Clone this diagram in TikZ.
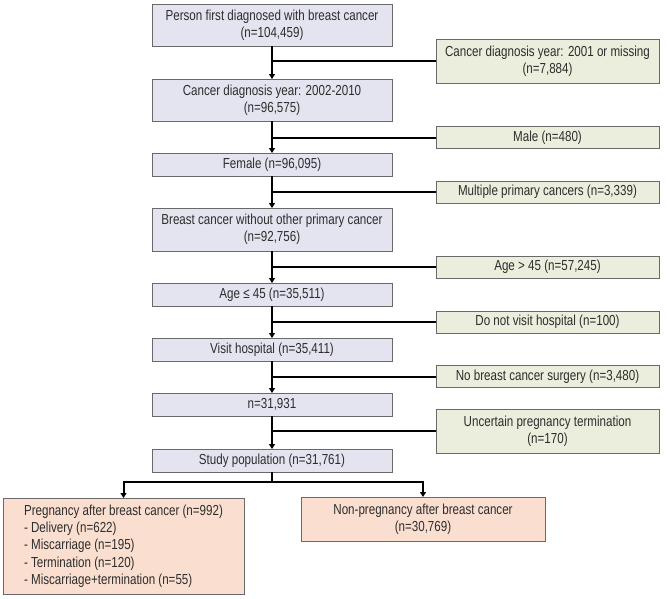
\documentclass[tikz,border=0pt]{standalone}
\usepackage{fontspec}
\setmainfont{Liberation Sans}[FakeStretch=0.8]
\usetikzlibrary{arrows.meta}
\definecolor{mainfill}{RGB}{228,228,240}
\definecolor{exclfill}{RGB}{235,238,220}
\definecolor{outfill}{RGB}{250,223,208}
\definecolor{boxline}{RGB}{105,105,105}
\definecolor{txt}{RGB}{45,45,45}
\begin{document}
\begin{tikzpicture}[x=1pt,y=-1pt,
  box/.style={draw=boxline,line width=0.9pt,inner sep=0pt,outer sep=0pt,align=center,
    font=\fontsize{14.5}{17.3}\selectfont,text=txt},
  mainbox/.style={box,fill=mainfill,minimum width=240pt},
  exclbox/.style={box,fill=exclfill,minimum width=223pt},
  outbox/.style={box,fill=outfill},
  conn/.style={line width=2pt,black},
  arr/.style={conn,-{Triangle[width=6pt,length=5pt]}}]
\useasboundingbox (0,0) rectangle (667,598);
% main column
\node[mainbox,minimum height=42pt] (m1) at (272,25) {Person first diagnosed with breast cancer\\(n=104,459)};
\node[mainbox,minimum height=42pt] (m2) at (272,100) {Cancer diagnosis year: 2002-2010\\(n=96,575)};
\node[mainbox,minimum height=23pt] (m3) at (272,164.5) {Female (n=96,095)};
\node[mainbox,minimum height=43pt] (m4) at (272,229.5) {Breast cancer without other primary cancer\\(n=92,756)};
\node[mainbox,minimum height=23pt] (m5) at (272,294.5) {Age ≤ 45 (n=35,511)};
\node[mainbox,minimum height=23pt] (m6) at (272,349.5) {Visit hospital (n=35,411)};
\node[mainbox,minimum height=23pt] (m7) at (272,404.5) {n=31,931};
\node[mainbox,minimum height=23pt] (m8) at (272,460.5) {Study population (n=31,761)};
% exclusion column
\node[exclbox,minimum height=44pt] (r1) at (547.5,61) {Cancer diagnosis year: 2001 or missing\\(n=7,884)};
\node[exclbox,minimum height=22pt] (r2) at (547.5,137.5) {Male (n=480)};
\node[exclbox,minimum height=22pt] (r3) at (547.5,192) {Multiple primary cancers (n=3,339)};
\node[exclbox,minimum height=22pt] (r4) at (547.5,267) {Age > 45 (n=57,245)};
\node[exclbox,minimum height=22pt] (r5) at (547.5,322) {Do not visit hospital (n=100)};
\node[exclbox,minimum height=22pt] (r6) at (547.5,376.5) {No breast cancer surgery (n=3,480)};
\node[exclbox,minimum height=44pt] (r7) at (547.5,431) {Uncertain pregnancy termination\\(n=170)};
% outcomes
\node[outbox,minimum width=241pt,minimum height=96pt,align=left] (b1) at (123.5,546)
 {Pregnancy after breast cancer (n=992)\\- Delivery (n=622)\\- Miscarriage (n=195)\\- Termination (n=120)\\- Miscarriage+termination (n=55)};
\node[outbox,minimum width=244pt,minimum height=44pt] (b2) at (423,519) {Non-pregnancy after breast cancer\\(n=30,769)};
% connectors
\foreach \a/\b in {m1/m2,m2/m3,m3/m4,m4/m5,m5/m6,m6/m7,m7/m8}
  \draw[arr] (\a.south) -- (\b.north);
\foreach \m/\r in {m1/r1,m2/r2,m3/r3,m4/r4,m5/r5,m6/r6,m7/r7}
  \draw[conn] (\r.west) -- (\r.west -| \m.south);
\coordinate (split) at (272,482);
\draw[conn] (m8.south) -- (split);
\draw[arr] (split) -| (b1.north);
\draw[arr] (split) -| (b2.north);
\end{tikzpicture}
\end{document}
